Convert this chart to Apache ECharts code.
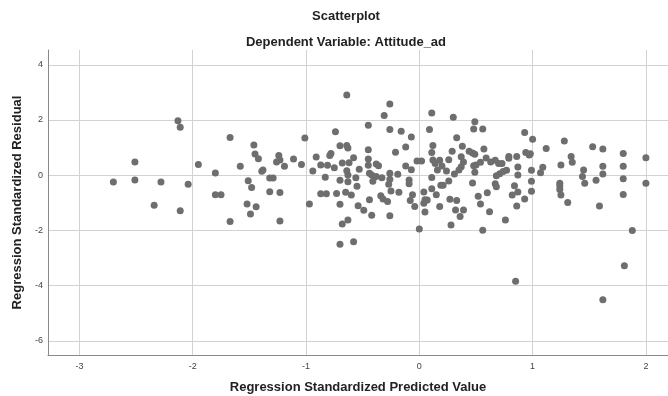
<!DOCTYPE html>
<html>
<head>
<meta charset="utf-8">
<script src="https://cdn.jsdelivr.net/npm/echarts@6/dist/echarts.min.js"></script>
<style>
html,body{margin:0;padding:0;background:#fff;}
#chart{width:668px;height:396px;}
</style>
</head>
<body>
<div id="chart"></div>
<script>
// Regression standardized predicted values (x)
var predicted = [
 -2.70,-2.51,-2.51,-2.28,-2.34,-2.13,-2.11,-2.04,-2.11,-1.95,-1.80,-1.80,-1.75,-1.67,-1.67,-1.58,
 -1.46,-1.45,-1.42,-1.51,-1.48,-1.52,-1.44,-1.49,-1.39,-1.38,-1.32,-1.29,-1.32,-1.24,-1.23,-1.26,-1.19,-1.11,-1.23,-1.23,
 -1.04,-1.01,-0.97,-0.94,-0.91,-0.87,-0.81,-0.78,-0.79,-0.83,-0.87,-0.82,-0.75,-0.74,-0.70,-0.68,-0.70,-0.73,-0.70,-0.68,-0.70,
 -0.64,-0.26,-0.31,0.11,0.30,-0.45,-0.26,-0.16,-0.07,0.09,-0.64,-0.63,-0.12,0.12,-0.45,-0.21,0.11,0.29,
 -0.58,-0.62,-0.45,-0.45,-0.38,-0.36,-0.53,-0.12,-0.07,-0.02,0.02,0.12,0.14,0.18,0.20,0.26,0.24,0.16,0.31,
 -0.64,-0.63,-0.56,-0.44,-0.42,-0.38,-0.33,-0.26,-0.26,-0.19,-0.09,-0.09,-0.41,-0.27,-0.63,-0.55,0.11,0.19,0.21,0.26,
 -0.65,-0.60,-0.25,-0.18,-0.34,-0.32,-0.28,-0.44,-0.06,-0.08,0.04,0.11,0.15,0.05,0.07,0.04,0.27,
 -0.54,-0.49,-0.42,-0.26,-0.04,0.18,0.05,-0.63,0.00,0.28,-0.58,
 0.49,0.48,0.56,0.93,1.00,1.12,0.33,0.38,0.37,0.44,0.47,0.49,0.57,0.48,0.50,0.54,0.59,0.63,0.67,0.70,0.73,
 0.79,0.79,0.86,0.94,0.97,0.98,0.39,0.37,0.35,0.49,0.68,0.71,0.74,0.77,0.87,0.87,0.99,1.07,1.09,
 0.47,0.67,0.68,0.84,0.99,0.99,0.87,0.82,0.60,0.52,0.54,0.93,0.86,0.33,0.32,0.39,0.36,0.62,0.76,0.56,0.85,
 1.28,1.34,1.35,1.25,1.24,1.24,1.24,1.25,1.31,1.45,1.44,1.46,1.53,1.62,1.62,1.62,1.56,1.59,
 1.80,1.80,1.80,1.80,2.00,2.00,1.88,1.81,1.62
];
// Regression standardized residuals (y)
var residual = [
 -0.25,0.48,-0.17,-0.25,-1.09,1.97,1.74,-0.33,-1.29,0.39,0.08,-0.71,-0.71,1.37,-1.68,0.32,
 1.09,0.77,0.60,-0.20,-0.45,-1.04,-1.14,-1.41,0.14,0.19,-0.10,-0.10,-0.60,0.71,0.55,0.48,0.32,0.59,-0.63,-1.66,
 0.39,1.35,-1.04,0.15,0.66,0.37,0.36,0.79,0.71,-0.07,-0.67,-0.67,0.27,1.57,1.07,0.44,-0.18,-0.66,-1.05,-1.77,-2.50,
 2.91,2.58,2.16,2.25,2.10,1.81,1.66,1.59,1.38,1.66,1.08,0.99,1.02,1.08,0.92,0.83,0.82,0.87,
 0.63,0.45,0.59,0.36,0.41,0.34,0.22,0.33,0.20,0.51,0.51,0.55,0.42,0.54,0.33,0.56,0.15,0.19,0.04,
 0.16,0.01,-0.09,0.07,0.01,-0.05,-0.09,0.07,-0.15,0.03,-0.17,-0.31,-0.22,-0.33,-0.24,-0.40,-0.08,-0.36,-0.36,-0.21,
 -0.62,-0.72,-0.57,-0.62,-0.74,-0.86,-0.95,-0.89,-0.71,-0.92,-0.61,-0.49,-0.71,-0.89,-0.90,-1.02,-0.87,
 -1.11,-1.27,-1.45,-1.47,-1.13,-1.13,-1.33,-1.62,-1.95,-1.80,-2.41,
 1.94,1.67,1.67,1.55,1.30,0.97,1.36,1.05,0.67,0.87,0.80,0.76,0.95,0.34,0.37,0.47,0.62,0.48,0.54,0.42,0.42,
 0.68,0.61,0.68,0.82,0.73,0.78,0.48,0.31,0.19,0.11,-0.02,0.05,0.13,0.18,0.30,0.01,0.18,0.09,0.29,
 -0.28,-0.31,-0.42,-0.38,-0.22,-0.58,-0.61,-0.72,-0.64,-0.76,-1.04,-0.86,-1.12,-0.92,-1.26,-1.26,-1.50,-1.32,-1.62,-1.99,-3.84,
 1.24,0.68,0.47,0.37,-0.29,-0.39,-0.52,-0.72,-0.99,0.19,-0.05,-0.29,1.03,0.95,0.32,0.04,-0.18,-1.12,
 0.79,0.32,-0.13,-0.70,0.63,-0.29,-2.00,-3.28,-4.51
];
var xTicks = [-3,-2,-1,0,1,2];
var yTicks = [-6,-4,-2,0,2,4];
var titleText = 'Scatterplot';
var subtitleText = 'Dependent Variable: Attitude_ad';
var xName = 'Regression Standardized Predicted Value';
var yName = 'Regression Standardized Residual';

var points = predicted.map(function(v,i){ return [v, residual[i]]; });

var chart = echarts.init(document.getElementById('chart'), null, {renderer:'canvas'});
var FONT = '"Liberation Sans", Arial, sans-serif';
var gridLine = {show:true, lineStyle:{color:'#d2d2d2', width:1}};
chart.setOption({
  animation:false,
  backgroundColor:'#ffffff',
  title:[
    {text:titleText, left:341, top:5, textAlign:'center',
     textStyle:{fontFamily:FONT, fontSize:13, fontWeight:'bold', color:'#222'}},
    {text:subtitleText, left:341, top:31, textAlign:'center',
     textStyle:{fontFamily:FONT, fontSize:13, fontWeight:'bold', color:'#222'}}
  ],
  grid:{left:48, top:50, right:0, bottom:41, containLabel:false, outerBoundsMode:'none'},
  xAxis:{
    type:'value', min:-3.277, max:2.195,
    name:xName, nameLocation:'middle', nameGap:26,
    nameTextStyle:{fontFamily:FONT, fontSize:13, fontWeight:'bold', color:'#222'},
    axisLine:{show:true, onZero:false, lineStyle:{color:'#8a8a8a', width:1}},
    axisTick:{show:false, customValues:xTicks},
    axisLabel:{customValues:xTicks, fontFamily:FONT, fontSize:9, color:'#444', margin:7},
    splitLine:gridLine
  },
  yAxis:{
    type:'value', min:-6.514, max:4.536,
    name:yName, nameLocation:'middle', nameGap:23,
    nameTextStyle:{fontFamily:FONT, fontSize:13, fontWeight:'bold', color:'#222'},
    axisLine:{show:true, onZero:false, lineStyle:{color:'#8a8a8a', width:1}},
    axisTick:{show:false, customValues:yTicks},
    axisLabel:{customValues:yTicks, fontFamily:FONT, fontSize:9, color:'#444', margin:5},
    splitLine:gridLine
  },
  series:[{
    type:'scatter', data:points, symbol:'circle', symbolSize:7,
    itemStyle:{color:'#6e6e6e', opacity:1}
  }]
});
</script>
</body>
</html>
